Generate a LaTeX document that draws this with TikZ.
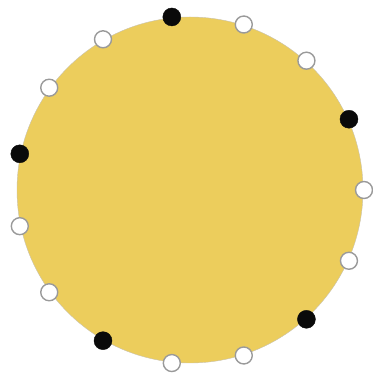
\documentclass[tikz,border=0pt]{standalone}
\usepackage{xcolor}
\usepackage{tikz}
\usetikzlibrary{calc}
\definecolor{Disc}{HTML}{ECCD5C}
\definecolor{Rim}{HTML}{C8C2B0}
\definecolor{Ink}{HTML}{0A0A0A}
\definecolor{Ring}{HTML}{9A9A9A}

\begin{document}
\begin{tikzpicture}[x=1pt,y=1pt]
  \useasboundingbox (0,0) rectangle (372,374);
  \tikzset{
    full/.style={circle,fill=Ink,draw=Ink,inner sep=0pt,minimum size=18pt},
    hollow/.style={circle,fill=white,draw=Ring,line width=1.4pt,inner sep=0pt,minimum size=17pt}
  }
  \node[circle,fill=Disc,draw=Rim,line width=0.4pt,inner sep=0pt,minimum size=346pt] (disc) at (190,184) {};
  \foreach \i in {0,...,14} {
    \pgfmathtruncatemacro{\r}{mod(\i,3)}
    \ifnum\r=0
      \node[full] (d\i) at ($(disc.center)+({96-24*\i}:174)$) {};
    \else
      \node[hollow] (d\i) at ($(disc.center)+({96-24*\i}:174)$) {};
    \fi
  }
\end{tikzpicture}
\end{document}
